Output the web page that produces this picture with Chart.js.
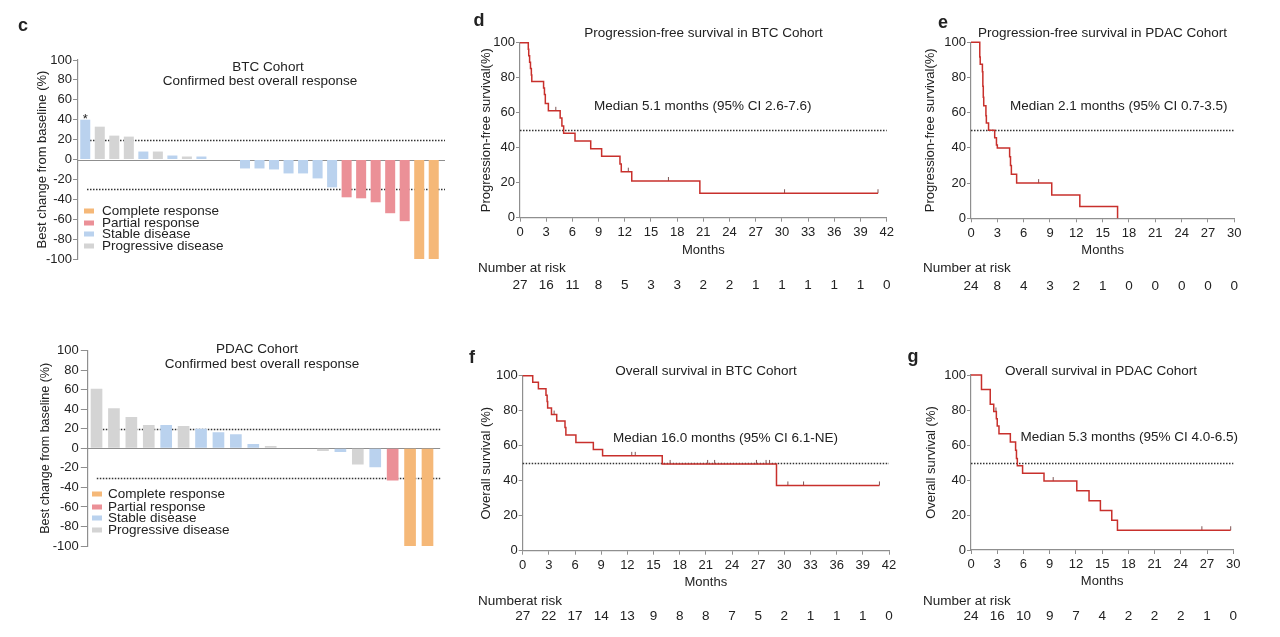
<!DOCTYPE html>
<html>
<head>
<meta charset="utf-8">
<script src="https://cdn.jsdelivr.net/npm/chart.js@4.4.1/dist/chart.umd.min.js"></script>
<style>
  body { margin: 0; background: #fff; }
  #page { position: relative; width: 1280px; height: 637px; overflow: hidden;
          font-family: "Liberation Sans", Arial, Helvetica, sans-serif; color: #222; }
  canvas { position: absolute; left: 0; top: 0; }
  .t { position: absolute; white-space: nowrap; line-height: 1; font-size: 13.5px; transform: translateY(-50%); }
  .c { transform: translate(-50%, -50%); }
  .lab { font-weight: bold; font-size: 18px; }
  .sw { position: absolute; width: 10px; height: 5px; transform: translateY(-50%); }
</style>
</head>
<body>
<div id="page"></div>
<script>
"use strict";

// ---- waterfall data (best change from baseline, %) ----
const btcPatients = ['1', '2', '3', '4', '5', '6', '7', '8', '9', '10', '11', '12', '13',
    '14', '15', '16', '17', '18', '19', '20', '21', '22', '23', '24', '25'];
const btcChange = [40, 33, 24, 23, 8, 8, 4, 3, 3, 0, 0, -9, -9, -10, -14, -14, -19, -28,
    -38, -39, -43, -54, -62, -100, -100];
const btcResponse = ['SD', 'PD', 'PD', 'PD', 'SD', 'PD', 'SD', 'PD', 'SD', 'SD', 'SD', 'SD', 'SD',
    'SD', 'SD', 'SD', 'SD', 'SD', 'PR', 'PR', 'PR', 'PR', 'PR', 'CR', 'CR'];
const btcStarred = [0];

const pdacPatients = ['1', '2', '3', '4', '5', '6', '7', '8', '9', '10', '11', '12', '13',
    '14', '15', '16', '17', '18', '19', '20'];
const pdacChange = [61, 41, 32, 24, 24, 23, 20, 16.5, 14.5, 4.5, 2.4, 0, 0, -2.8, -3.8, -16.6,
    -19.3, -32.8, -100, -100];
const pdacResponse = ['PD', 'PD', 'PD', 'PD', 'SD', 'PD', 'SD', 'SD', 'SD', 'SD', 'PD', 'SD', 'SD',
    'PD', 'SD', 'PD', 'SD', 'PR', 'CR', 'CR'];

const responseCodes = ['CR', 'PR', 'SD', 'PD'];
const responseNames = ['Complete response', 'Partial response', 'Stable disease', 'Progressive disease'];
const responseColors = { CR: '#f5b878', PR: '#eb9097', SD: '#bad2ee', PD: '#d4d4d4' };
const changeCutoffs = [20, -30];

// ---- Kaplan-Meier data (months, % surviving) ----
const pfsBtcMonths = [0, 0.95, 1.0, 1.1, 1.2, 1.3, 1.35, 2.7, 2.8, 2.9, 3.25, 4.6, 4.8, 5.0,
    6.3, 8.1, 9.35, 11.45, 11.6, 12.8, 20.6, 41];
const pfsBtcSurv = [100, 96.3, 92.6, 88.9, 85.2, 81.5, 77.8, 74.1, 70.4, 65.3, 61.1, 57.0, 52.4,
    48.2, 43.8, 39.4, 35.1, 30.7, 26.3, 21.0, 14.0, 14.0];
const pfsBtcCensorMonths = [4.1, 12.4, 17.0, 30.3, 41];
const pfsBtcCensorSurv = [61.1, 26.3, 21.0, 14.0, 14.0];

const pfsPdacMonths = [0, 1.0, 1.05, 1.3, 1.35, 1.4, 1.45, 1.7, 1.75, 2.0, 2.7, 2.9, 3.0, 4.4,
    4.5, 4.6, 5.2, 9.2, 12.4, 16.7];
const pfsPdacSurv = [100, 91.7, 87.5, 83.3, 75.0, 68.8, 64.0, 58.3, 54.2, 50.0, 45.8, 41.7, 40.0,
    35.0, 30.0, 25.0, 20.0, 13.3, 6.7, 0];
const pfsPdacCensorMonths = [7.7];
const pfsPdacCensorSurv = [20.0];

const osBtcMonths = [0, 1.15, 1.8, 2.67, 2.8, 2.86, 3.3, 3.9, 4.85, 4.95, 6.1, 8.1, 9.16, 16.0,
    29.1, 40.9];
const osBtcSurv = [100, 96.3, 92.6, 88.9, 85.2, 81.5, 77.8, 74.1, 70.4, 66.1, 61.9, 57.9, 54.2,
    49.6, 37.3, 37.3];
const osBtcCensorMonths = [3.6, 12.5, 12.9, 16.9, 21.2, 22.0, 26.8, 27.9, 28.3, 30.4, 32.2, 40.9];
const osBtcCensorSurv = [77.8, 54.2, 54.2, 49.6, 49.6, 49.6, 49.6, 49.6, 49.6, 37.3, 37.3, 37.3];

const osPdacMonths = [0, 1.2, 2.2, 2.6, 2.9, 3.0, 3.2, 4.5, 5.1, 5.2, 5.3, 5.9, 8.35, 12.1, 13.5,
    14.8, 16.1, 16.75, 29.7];
const osPdacSurv = [100, 91.7, 83.3, 79.2, 75.0, 70.8, 66.4, 61.7, 57.0, 52.3, 48.2, 43.8, 39.4,
    33.8, 28.2, 22.6, 17.0, 11.3, 11.3];
const osPdacCensorMonths = [2.85, 9.4, 26.4, 29.7];
const osPdacCensorSurv = [79.2, 39.4, 11.3, 11.3];

// number at risk
const riskMonthsBtc = [0, 3, 6, 9, 12, 15, 18, 21, 24, 27, 30, 33, 36, 39, 42];
const riskMonthsPdac = [0, 3, 6, 9, 12, 15, 18, 21, 24, 27, 30];
const pfsBtcRisk = [27, 16, 11, 8, 5, 3, 3, 2, 2, 1, 1, 1, 1, 1, 0];
const pfsPdacRisk = [24, 8, 4, 3, 2, 1, 0, 0, 0, 0, 0];
const osBtcRisk = [27, 22, 17, 14, 13, 9, 8, 8, 7, 5, 2, 1, 1, 1, 0];
const osPdacRisk = [24, 16, 10, 9, 7, 4, 2, 2, 2, 1, 0];
const medianLine = 50;

const FONT = '"Liberation Sans", Arial, Helvetica, sans-serif';
const AXIS = '#8f8f8f';
const KM_RED = '#c8302c';
const W = 1280, H = 637;

Chart.defaults.font.family = FONT;
Chart.defaults.font.size = 13;
Chart.defaults.color = '#222';

const page = document.getElementById('page');

function makeCanvas() {
    const c = document.createElement('canvas');
    c.width = W;
    c.height = H;
    page.appendChild(c);
    return c;
}

function put(text, x, y, cls) {
    const d = document.createElement('div');
    d.className = 't ' + (cls || '');
    d.textContent = text;
    d.style.left = x + 'px';
    d.style.top = y + 'px';
    page.appendChild(d);
    return d;
}

// censor mark: short upward tick sitting on the curve
const censorTick = document.createElement('canvas');
censorTick.width = 3;
censorTick.height = 10;
(function () {
    const g = censorTick.getContext('2d');
    g.fillStyle = '#7d5555';
    g.fillRect(1, 1, 1, 4);
})();

// horizontal reference lines (dotted cut-offs, solid zero line)
const refLines = {
    id: 'refLines',
    beforeDatasetsDraw(chart, args, opts) {
        const { ctx, chartArea: a, scales: { y } } = chart;
        ctx.save();
        (opts.lines || []).forEach(function (l) {
            const py = Math.round(y.getPixelForValue(l.value)) + 0.5;
            ctx.beginPath();
            ctx.setLineDash(l.dash || []);
            ctx.strokeStyle = l.color;
            ctx.lineWidth = l.width || 1;
            ctx.moveTo(a.left + (l.inset || 0), py);
            ctx.lineTo(a.right + (l.extend || 0), py);
            ctx.stroke();
        });
        ctx.restore();
    }
};

// asterisk above flagged bars
const starMarks = {
    id: 'starMarks',
    afterDatasetsDraw(chart, args, opts) {
        if (!opts.marks) return;
        const meta = chart.getDatasetMeta(0);
        const ctx = chart.ctx;
        ctx.save();
        ctx.font = '13px ' + FONT;
        ctx.fillStyle = '#222';
        ctx.textAlign = 'center';
        ctx.textBaseline = 'alphabetic';
        opts.marks.forEach(function (i) {
            const bar = meta.data[i];
            ctx.fillText('*', bar.x, bar.y + 3);
        });
        ctx.restore();
    }
};

// numbers at risk under the month ticks
const riskRow = {
    id: 'riskRow',
    afterDraw(chart, args, opts) {
        if (!opts.counts) return;
        const { ctx, chartArea: a, scales: { x } } = chart;
        ctx.save();
        ctx.font = '13.5px ' + FONT;
        ctx.fillStyle = '#222';
        ctx.textAlign = 'center';
        ctx.textBaseline = 'middle';
        opts.counts.forEach(function (n, i) {
            ctx.fillText(String(n), x.getPixelForValue(opts.months[i]), a.bottom + opts.dy);
        });
        ctx.restore();
    }
};

function waterfall(labels, values, responses, stars, box) {
    return new Chart(makeCanvas(), {
        type: 'bar',
        data: {
            labels: labels,
            datasets: [{
                data: values,
                backgroundColor: responses.map(r => responseColors[r]),
                borderWidth: 0,
                categoryPercentage: 1,
                barPercentage: box.bar
            }]
        },
        options: {
            responsive: false,
            animation: false,
            layout: { padding: { left: box.L - box.yw, top: box.T, right: W - box.R, bottom: H - box.B } },
            plugins: {
                legend: { display: false },
                tooltip: { enabled: false },
                refLines: {
                    lines: [
                        { value: 0, color: AXIS, width: 1.2, extend: 4 },
                        { value: changeCutoffs[0], color: '#333', width: 1.3, dash: [1.5, 1.5], inset: box.inset, extend: 4 },
                        { value: changeCutoffs[1], color: '#333', width: 1.3, dash: [1.5, 1.5], inset: box.inset, extend: 4 }
                    ]
                },
                starMarks: { marks: stars }
            },
            scales: {
                x: { display: false },
                y: {
                    min: -100, max: 100,
                    ticks: { stepSize: 20, padding: box.tp, autoSkip: false },
                    grid: { drawOnChartArea: false, tickLength: box.tl, color: AXIS },
                    border: { color: AXIS, width: 1.2 },
                    title: { display: true, text: 'Best change from baseline (%)', padding: 0, font: { size: box.ts } },
                    afterFit(s) { s.width = box.yw; }
                }
            }
        },
        plugins: [refLines, starMarks]
    });
}

function survival(s) {
    return new Chart(makeCanvas(), {
        type: 'line',
        data: {
            datasets: [{
                data: s.months.map((m, i) => ({ x: m, y: s.surv[i] })),
                stepped: true,
                borderColor: KM_RED,
                borderWidth: 1.5,
                pointRadius: 0,
                fill: false,
                clip: false
            }, {
                data: s.censorMonths.map((m, i) => ({ x: m, y: s.censorSurv[i] })),
                showLine: false,
                pointStyle: censorTick,
                pointRadius: 3,
                clip: false
            }]
        },
        options: {
            responsive: false,
            animation: false,
            layout: { padding: { left: s.L - s.yw, top: s.T, right: W - s.R, bottom: H - s.B - s.xh } },
            plugins: {
                legend: { display: false },
                tooltip: { enabled: false },
                refLines: { lines: [{ value: medianLine, color: '#333', width: 1.3, dash: [1.5, 1.5] }] },
                riskRow: { counts: s.risk, months: s.riskMonths, dy: s.dy }
            },
            scales: {
                x: {
                    type: 'linear', min: 0, max: s.xMax,
                    ticks: { stepSize: 3, padding: 3, autoSkip: false, maxRotation: 0 },
                    grid: { drawOnChartArea: false, tickLength: 4, color: AXIS },
                    border: { color: AXIS, width: 1.2 },
                    title: { display: true, text: 'Months', padding: 0 },
                    afterFit(a) { a.height = s.xh; }
                },
                y: {
                    min: 0, max: 100,
                    ticks: { stepSize: 20, padding: 1 },
                    grid: { drawOnChartArea: false, tickLength: 4, color: AXIS },
                    border: { color: AXIS, width: 1.2 },
                    title: { display: true, text: s.yTitle, padding: 0 },
                    afterFit(a) { a.width = s.yw; }
                }
            }
        },
        plugins: [refLines, riskRow]
    });
}

// panel c
waterfall(btcPatients, btcChange, btcResponse, btcStarred,
    { L: 78, R: 441, T: 60, B: 259, yw: 43.8, bar: 0.69, inset: 9, tl: 5, tp: 1, ts: 13 });
waterfall(pdacPatients, pdacChange, pdacResponse, [],
    { L: 87.8, R: 436.2, T: 350.7, B: 546, yw: 49.3, bar: 0.67, inset: 9, tl: 7, tp: 2, ts: 12.5 });

// panels d-g
survival({ months: pfsBtcMonths, surv: pfsBtcSurv, censorMonths: pfsBtcCensorMonths, censorSurv: pfsBtcCensorSurv,
    risk: pfsBtcRisk, riskMonths: riskMonthsBtc, xMax: 42, yTitle: 'Progression-free survival(%)',
    L: 520, T: 42.7, R: 886.7, B: 217.7, yw: 41.8, xh: 40.1, dy: 67.3 });
survival({ months: pfsPdacMonths, surv: pfsPdacSurv, censorMonths: pfsPdacCensorMonths, censorSurv: pfsPdacCensorSurv,
    risk: pfsPdacRisk, riskMonths: riskMonthsPdac, xMax: 30, yTitle: 'Progression-free survival(%)',
    L: 971, T: 42.3, R: 1234.3, B: 218.3, yw: 48.1, xh: 39.5, dy: 68.4 });
survival({ months: osBtcMonths, surv: osBtcSurv, censorMonths: osBtcCensorMonths, censorSurv: osBtcCensorSurv,
    risk: osBtcRisk, riskMonths: riskMonthsBtc, xMax: 42, yTitle: 'Overall survival (%)',
    L: 522.7, T: 375.7, R: 889, B: 550.7, yw: 44.5, xh: 39.1, dy: 66 });
survival({ months: osPdacMonths, surv: osPdacSurv, censorMonths: osPdacCensorMonths, censorSurv: osPdacCensorSurv,
    risk: osPdacRisk, riskMonths: riskMonthsPdac, xMax: 30, yTitle: 'Overall survival (%)',
    L: 971, T: 375, R: 1233.3, B: 550, yw: 47.8, xh: 39.5, dy: 66.7 });

// panel letters
put('c', 23, 24.5, 'c lab');
put('d', 479, 20, 'c lab');
put('e', 943, 22, 'c lab');
put('f', 472, 357, 'c lab');
put('g', 913, 356, 'c lab');

// waterfall titles
put('BTC Cohort', 268, 67, 'c');
put('Confirmed best overall response', 260, 81, 'c');
put('PDAC Cohort', 257, 349, 'c');
put('Confirmed best overall response', 262, 364, 'c');

// waterfall legends
function legend(sx, tx, rows) {
    responseCodes.forEach(function (code, i) {
        const sw = document.createElement('div');
        sw.className = 'sw';
        sw.style.left = sx + 'px';
        sw.style.top = rows[i] + 'px';
        sw.style.background = responseColors[code];
        page.appendChild(sw);
        put(responseNames[i], tx, rows[i]);
    });
}
legend(84, 102, [211, 222.5, 234, 246]);
legend(92, 108, [494.3, 506.5, 518.3, 530.3]);

// survival titles, medians, risk labels
put('Progression-free survival in BTC Cohort', 703.5, 33, 'c');
put('Progression-free survival in PDAC Cohort', 1102.5, 33, 'c');
put('Overall survival in BTC Cohort', 706, 370.7, 'c');
put('Overall survival in PDAC Cohort', 1101, 370.7, 'c');

put('Median 5.1 months (95% CI 2.6-7.6)', 594, 106);
put('Median 2.1 months (95% CI 0.7-3.5)', 1010, 106);
put('Median 16.0 months (95% CI 6.1-NE)', 613, 438.3);
put('Median 5.3 months (95% CI 4.0-6.5)', 1020.5, 437.3);

put('Number at risk', 478, 268.3);
put('Number at risk', 923, 268.3);
put('Numberat risk', 478, 600.7);
put('Number at risk', 923, 600.7);
</script>
</body>
</html>
